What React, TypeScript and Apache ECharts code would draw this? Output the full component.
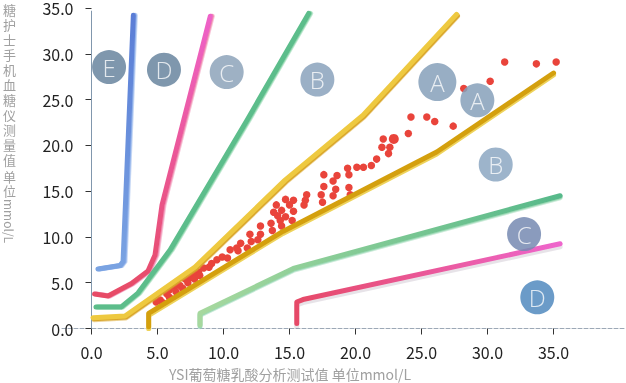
import React, { useEffect, useRef } from 'react';
import * as echarts from 'echarts';

const FONT = '"Noto Sans CJK SC", "Noto Sans", sans-serif';

const xTicks = [0, 5, 10, 15, 20, 25, 30, 35];
const X_MIN = -2.235;
const X_MAX = 40.49;

const xTitle = 'YSI葡萄糖乳酸分析测试值 单位mmol/L';
const yTitleCJK = ['糖', '护', '士', '手', '机', '血', '糖', '仪', '测', '量', '值'];
const yTitleUnitCJK = ['单', '位'];
const yTitleUnit = 'mmol/L';

// zone labels
const zoneLabels = ['E', 'D', 'C', 'B', 'A', 'A', 'B', 'C', 'D'];
const zoneX = [1.33, 5.49, 10.24, 17.11, 26.2, 29.23, 30.62, 32.77, 33.77];
const zoneY = [28.55, 28.27, 28.0, 27.18, 26.91, 24.92, 17.91, 10.31, 3.4];
const zoneSize = [34, 34, 34, 34, 38, 34, 34, 34, 34];
const zoneColors = ['#68859f', '#68859f', '#8da3ba', '#8aa2bc', '#86a0ba', '#86a0ba', '#8ca7c2', '#758ab2', '#518abe'];

// zone boundaries [x, y]
const boundaryE = [[0.49, 6.49], [2.16, 6.87], [2.39, 7.31], [3.17, 34.2]];
const boundaryDUpper = [[0.23, 3.76], [1.25, 3.55], [3.03, 4.91], [4.28, 6.27], [4.81, 8.02], [5.34, 13.47], [9.0, 34.1]];
const boundaryCUpper = [[0.34, 2.34], [2.23, 2.34], [3.52, 3.87], [5.95, 8.56], [11.78, 22.74], [16.45, 34.4]];
const boundaryAUpper = [[0.11, 1.18], [2.54, 1.36], [7.84, 6.71], [14.66, 16.2], [20.57, 23.3], [27.65, 34.3]];
const boundaryALower = [[4.33, 0.2], [4.33, 1.66], [14.5, 10.6], [26.15, 19.28], [35.0, 27.9]];
const boundaryCLower = [[8.22, 0.4], [8.22, 1.66], [15.29, 6.56], [35.5, 14.5]];
const boundaryDLower = [[15.55, 0.55], [15.55, 2.89], [16.02, 3.16], [35.5, 9.25]];

// paired readings [YSI, meter]
const readings = [
  [35.2, 29.1], [33.7, 28.9], [31.3, 29.1], [30.2, 27.0], [28.2, 26.2], [27.4, 22.1], [26.0, 22.6],
  [25.4, 23.1], [24.2, 23.1], [24.0, 21.3], [22.1, 20.7], [22.0, 19.8], [22.6, 19.8],
  [22.5, 19.1], [21.6, 18.5], [21.2, 17.8], [20.6, 17.6], [20.1, 17.6], [19.4, 17.5], [19.5, 16.8],
  [18.6, 16.7], [17.6, 16.8], [18.3, 16.1], [17.6, 15.5], [18.5, 15.2], [19.5, 15.4], [17.4, 14.6],
  [18.3, 14.5], [19.6, 14.6], [16.3, 14.6], [16.2, 14.0], [17.5, 13.8], [15.3, 14.0], [14.7, 14.1],
  [16.1, 13.5], [14.0, 13.5], [15.0, 13.5], [14.4, 12.9], [15.3, 12.8], [13.8, 12.7], [14.1, 12.3],
  [14.7, 12.2], [14.3, 11.8], [15.2, 11.8], [13.6, 11.5], [14.4, 11.2], [12.8, 11.2], [13.7, 10.7],
  [12.8, 10.3], [12.0, 10.3], [12.6, 9.7], [12.1, 9.5], [11.3, 9.3], [11.0, 8.8], [10.5, 8.6],
  [11.8, 8.8], [11.1, 8.5], [9.9, 7.8], [9.5, 7.5], [10.3, 7.7], [9.1, 7.1], [8.9, 6.7], [8.5, 6.6],
  [8.1, 6.2], [7.7, 5.9], [7.5, 5.6], [7.1, 5.4], [6.7, 4.7], [6.3, 4.6], [5.9, 4.2], [5.7, 3.8],
  [5.2, 3.1], [4.9, 2.9], [5.4, 2.8], [5.9, 3.4], [6.4, 4.0], [6.9, 4.4], [7.3, 5.0], [7.8, 5.4], [8.2, 5.8],
];
const bigReading = [[22.9, 20.7]];

const axisLine = [[0, 0], [0, 34.7]];

function boundary(data: number[][], color: any, edge: string, ox: number, oy: number) {
  return {
    type: 'line',
    data,
    symbol: 'none',
    silent: true,
    z: 3,
    lineStyle: {
      width: 5,
      color,
      cap: 'round',
      join: 'round',
      shadowColor: edge,
      shadowBlur: 0,
      shadowOffsetX: ox,
      shadowOffsetY: oy,
    },
  };
}

const vGrad = (top: string, bottom: string) => ({
  type: 'linear', x: 0, y: 0, x2: 0, y2: 1,
  colorStops: [{ offset: 0, color: top }, { offset: 1, color: bottom }],
});
const hGrad = (left: string, right: string) => ({
  type: 'linear', x: 0, y: 0, x2: 1, y2: 0,
  colorStops: [{ offset: 0, color: left }, { offset: 1, color: right }],
});

export default function App() {
  const ref = useRef<HTMLDivElement>(null);
  useEffect(() => {
    if (!ref.current) return;
    const chart = echarts.init(ref.current, undefined, { renderer: 'svg' });
    const fmt = (v: number) => v.toFixed(1);
    const graphic: any[] = [];
    const charStyle = { font: `13px ${FONT}`, fill: '#a0a0a0', lineHeight: 13, align: 'center', verticalAlign: 'top' };
    yTitleCJK.forEach((ch, i) => {
      graphic.push({ type: 'text', x: 9.5, y: 3 + i * 15, style: { ...charStyle, text: ch } });
    });
    yTitleUnitCJK.forEach((ch, i) => {
      graphic.push({ type: 'text', x: 9.5, y: 170 + i * 14, style: { ...charStyle, text: ch } });
    });
    graphic.push({
      type: 'text', x: 9.5, y: 199, rotation: -Math.PI / 2,
      style: { text: yTitleUnit, font: `12px ${FONT}`, fill: '#a0a0a0', align: 'left', verticalAlign: 'middle' },
    });
    graphic.push({
      type: 'text', x: 290, y: 374,
      style: { text: xTitle, font: `14px ${FONT}`, fill: '#a0a0a0', align: 'center', verticalAlign: 'middle', lineHeight: 14 },
    });
    chart.setOption({
      animation: false,
      grid: { left: 62, right: 0, top: 7.5, bottom: 54.5 },
      xAxis: {
        type: 'value', min: X_MIN, max: X_MAX,
        axisLine: { show: true, onZero: false, lineStyle: { color: '#9ca8b6', type: 'dashed', width: 1 } },
        axisTick: { show: true, customValues: xTicks, length: 6, lineStyle: { color: '#333' } },
        axisLabel: { customValues: xTicks, formatter: fmt, margin: 15, fontSize: 16, color: '#222', fontFamily: FONT },
        splitLine: { show: false },
      },
      yAxis: {
        type: 'value', min: 0, max: 35, interval: 5, offset: -27.5,
        axisLine: { show: false },
        axisTick: { show: true, length: 6, lineStyle: { color: '#333' } },
        axisLabel: { formatter: fmt, margin: 16, fontSize: 16, lineHeight: 14, color: '#222', fontFamily: FONT },
        splitLine: { show: false },
      },
      graphic,
      series: [
        {
          type: 'line', data: axisLine, symbol: 'none', silent: true, z: 1,
          lineStyle: { color: '#8197ad', width: 1 },
        },
        {
          type: 'scatter', data: readings, symbolSize: 7.5, z: 2, silent: true,
          itemStyle: { color: '#e9443b', opacity: 1 },
        },
        {
          type: 'scatter', data: bigReading, symbolSize: 10, z: 2, silent: true,
          itemStyle: { color: '#e9443b', opacity: 1 },
        },
        boundary(boundaryE, vGrad('#5a7dd6', '#7aa3e2'), '#8eb0ea', 1.5, 0),
        boundary(boundaryDUpper, vGrad('#ee62c8', '#e74c66'), '#f08ab0', 1.5, 0),
        boundary(boundaryCUpper, '#5cbd8b', '#8cd6ab', 1.5, 0),
        boundary(boundaryAUpper, '#eec940', '#d9a62a', 1, 1.5),
        boundary(boundaryALower, '#d4a010', '#eed35a', 0, 2),
        boundary(boundaryCLower, hGrad('#a6d89e', '#57b98a'), '#9ad8b4', 0, 1.5),
        boundary(boundaryDLower, hGrad('#e64a68', '#ee66cc'), 'rgba(120,100,130,0.18)', 0, 3),
        {
          type: 'scatter', z: 5, silent: true,
          data: zoneLabels.map((n, i) => ({
            name: n,
            value: [zoneX[i], zoneY[i]],
            symbolSize: zoneSize[i],
            itemStyle: { color: zoneColors[i], opacity: 0.85 },
          })),
          label: {
            show: true, position: 'inside', formatter: '{b}',
            color: 'rgba(255,255,255,0.92)', fontSize: 24, fontWeight: 300, fontFamily: '"Open Sans", "Noto Sans", sans-serif',
          },
        },
      ],
    });
    return () => chart.dispose();
  }, []);
  return <div ref={ref} style={{ position: 'fixed', left: 0, top: 0, width: 626, height: 383 }} />;
}
